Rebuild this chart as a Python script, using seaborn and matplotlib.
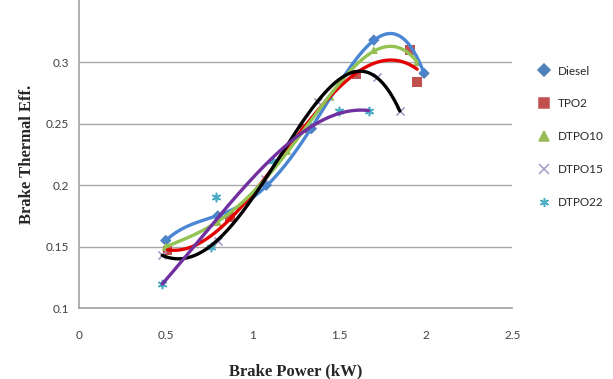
import numpy as np
import matplotlib
matplotlib.use("Agg")
import matplotlib.pyplot as plt
import seaborn as sns
from matplotlib.lines import Line2D

# --- datos ---
diesel_x = [0.50, 0.80, 1.08, 1.34, 1.70, 1.99]
diesel_y = [0.155, 0.175, 0.200, 0.246, 0.318, 0.291]

tpo2_x = [0.51, 0.87, 1.30, 1.60, 1.91, 1.95]
tpo2_y = [0.147, 0.174, 0.246, 0.290, 0.310, 0.284]

dtpo10_x = [0.50, 0.80, 1.20, 1.45, 1.70, 1.95]
dtpo10_y = [0.150, 0.170, 0.228, 0.272, 0.310, 0.300]

dtpo15_x = [0.48, 0.80, 1.07, 1.38, 1.72, 1.85]
dtpo15_y = [0.143, 0.155, 0.205, 0.268, 0.288, 0.260]

dtpo22_x = [0.48, 0.76, 0.79, 1.12, 1.50, 1.67]
dtpo22_y = [0.120, 0.150, 0.190, 0.220, 0.260, 0.260]

x_ticks = [0, 0.5, 1, 1.5, 2, 2.5]
y_ticks = [0.1, 0.15, 0.2, 0.25, 0.3]

series = [
    # nombre, x, y, marcador, color marcador, color tendencia, grado
    ("Diesel", diesel_x, diesel_y, "D", "#4f81bd", "#4a86d4", 4),
    ("TPO2", tpo2_x, tpo2_y, "s", "#c0504d", "#e30000", 3),
    ("DTPO10", dtpo10_x, dtpo10_y, "^", "#9bbb59", "#92c353", 4),
    ("DTPO15", dtpo15_x, dtpo15_y, "x", "#a899c8", "#000000", 4),
    ("DTPO22", dtpo22_x, dtpo22_y, (6, 2, 0), "#4bacc6", "#7030a0", 3),
]

sns.set_theme(style="white")
plt.rcParams["font.family"] = ["Lato", "DejaVu Sans"]

fig = plt.figure(figsize=(6.13, 3.79), dpi=100)
ax = fig.add_axes([0.129, 0.187, 0.707, 0.811])

handles = []
for name, xs, ys, mk, mcol, lcol, deg in series:
    ms = 46 if mk == "s" else 34
    if mk in ("x", (6, 2, 0)):
        ax.scatter(xs, ys, marker=mk, s=ms, color=mcol, linewidths=1.2, zorder=2)
    else:
        sns.scatterplot(x=xs, y=ys, marker=mk, s=ms, color=mcol, edgecolor="none", ax=ax, zorder=2)
    # línea de tendencia polinómica (como en Excel)
    coef = np.polyfit(xs, ys, deg)
    xx = np.linspace(min(xs), max(xs), 200)
    sns.lineplot(x=xx, y=np.polyval(coef, xx), color=lcol, linewidth=2.4, ax=ax, zorder=3)
    handles.append(Line2D([], [], linestyle="none", marker=mk, color=mcol,
                          markersize=6.5 if mk != "s" else 7.5, markeredgewidth=1.1, label=name))

ax.set_xlim(0, 2.5)
ax.set_ylim(0.1, 0.35)
ax.set_xticks(x_ticks)
ax.set_xticklabels(["0", "0.5", "1", "1.5", "2", "2.5"])
ax.set_yticks(y_ticks)
ax.set_yticklabels(["0.1", "0.15", "0.2", "0.25", "0.3"])
ax.yaxis.grid(True, color="#a6a6a6", linewidth=1)
ax.xaxis.grid(False)
for side in ["top", "right"]:
    ax.spines[side].set_visible(False)
for side in ["left", "bottom"]:
    ax.spines[side].set_color("#a6a6a6")
ax.tick_params(axis="both", which="both", direction="out", length=4, color="#a6a6a6",
               labelsize=8.5, labelcolor="#404040")
ax.tick_params(axis="x", pad=12)
ax.tick_params(axis="y", pad=3)

ax.set_xlabel("Brake Power (kW)", fontsize=12, fontweight="bold",
              family=["Liberation Serif"], labelpad=16)
ax.set_ylabel("Brake Thermal Eff.", fontsize=12, fontweight="bold",
              family=["Liberation Serif"], labelpad=8)

fig.legend(handles=handles, loc="upper left", bbox_to_anchor=(0.86, 0.855),
           frameon=False, fontsize=8.5, labelspacing=1.85, handletextpad=0.7,
           handlelength=1.0)

fig.savefig("out.png", dpi=100)
